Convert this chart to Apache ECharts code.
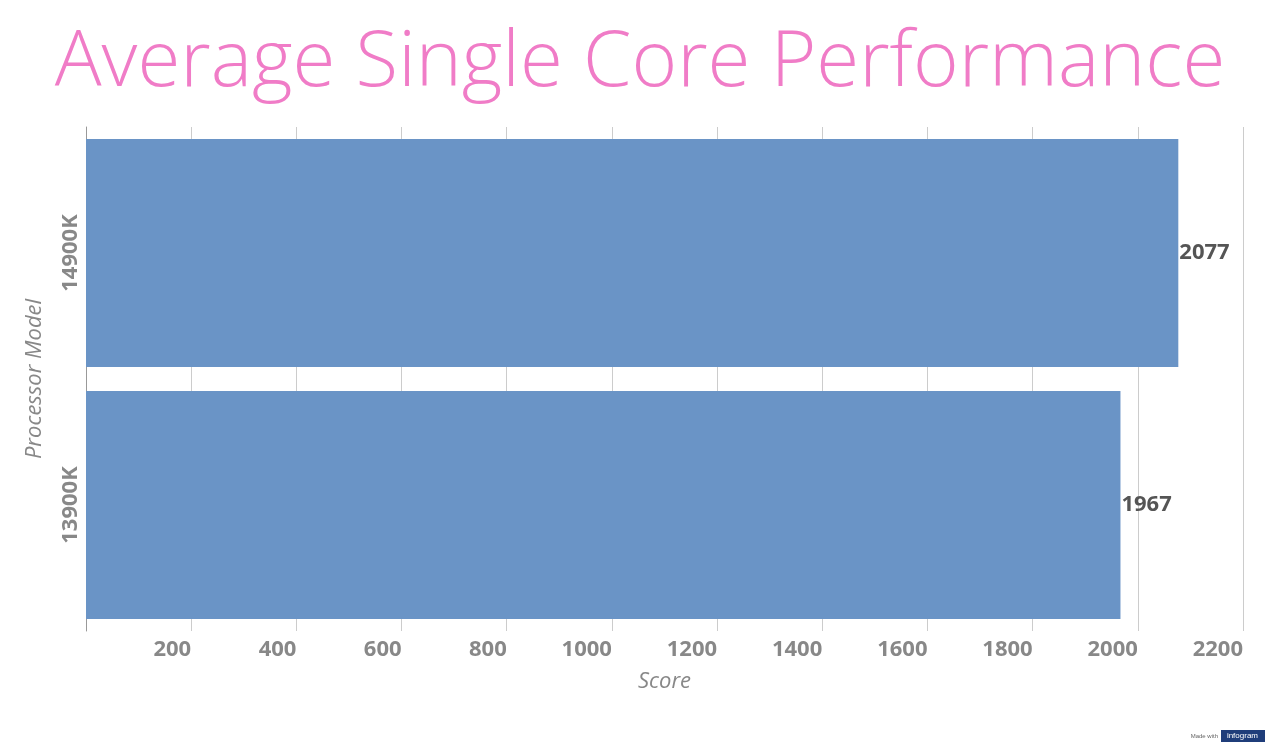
<!DOCTYPE html>
<html>
<head>
<meta charset="utf-8">
<script src="https://cdn.jsdelivr.net/npm/echarts@6/dist/echarts.min.js"></script>
<style>html,body{margin:0;padding:0;background:#fff}#chart{width:1280px;height:751px}</style>
</head>
<body>
<div id="chart"></div>
<script>
const categories = ['13900K', '14900K']
const scores = [1967, 2077]

const chart = echarts.init(document.getElementById('chart'))
chart.setOption({
    animation: false,
    title: {
        text: 'Average Single Core Performance',
        left: 'center',
        top: 20,
        textStyle: {color: '#f07cc7', fontSize: 78, fontWeight: 300, fontFamily: 'Open Sans'},
    },
    grid: {left: 86, right: 37, top: 127, bottom: 120},
    xAxis: {
        type: 'value',
        min: 0,
        max: 2200,
        interval: 200,
        name: 'Score',
        nameLocation: 'middle',
        nameGap: 40,
        nameTextStyle: {color: '#888', fontSize: 22, fontStyle: 'italic', fontFamily: 'Open Sans'},
        axisLine: {show: false},
        axisTick: {show: false},
        splitLine: {lineStyle: {color: '#ccc'}},
        axisLabel: {
            showMinLabel: false,
            align: 'right',
            margin: 8,
            color: '#888',
            fontSize: 22,
            fontWeight: 'bold',
            fontFamily: 'Open Sans',
            formatter: v => String(v),
        },
    },
    yAxis: {
        type: 'category',
        data: categories,
        name: 'Processor Model',
        nameLocation: 'middle',
        nameGap: 40,
        nameTextStyle: {color: '#888', fontSize: 22, fontStyle: 'italic', fontFamily: 'Open Sans'},
        axisLine: {lineStyle: {color: '#999'}},
        axisTick: {show: false},
        axisLabel: {rotate: 90, color: '#888', fontSize: 22, fontWeight: 'bold', fontFamily: 'Open Sans', margin: 4},
    },
    series: [{
        type: 'bar',
        data: scores,
        barCategoryGap: '9.5%',
        itemStyle: {color: '#6a94c6'},
        label: {
            show: true,
            position: 'right',
            distance: 1,
            color: '#555',
            fontSize: 22,
            fontWeight: 'bold',
            fontFamily: 'Open Sans',
        },
    }],
    graphic: [
        {type: 'text', right: 62, bottom: 12, style: {text: 'Made with', fill: '#666', fontSize: 6}},
        {type: 'rect', right: 15, bottom: 9, shape: {width: 44, height: 12}, style: {fill: '#1f3d7a'}},
        {type: 'text', right: 22, bottom: 11, style: {text: 'infogram', fill: '#fff', fontSize: 8}},
    ],
})
</script>
</body>
</html>
